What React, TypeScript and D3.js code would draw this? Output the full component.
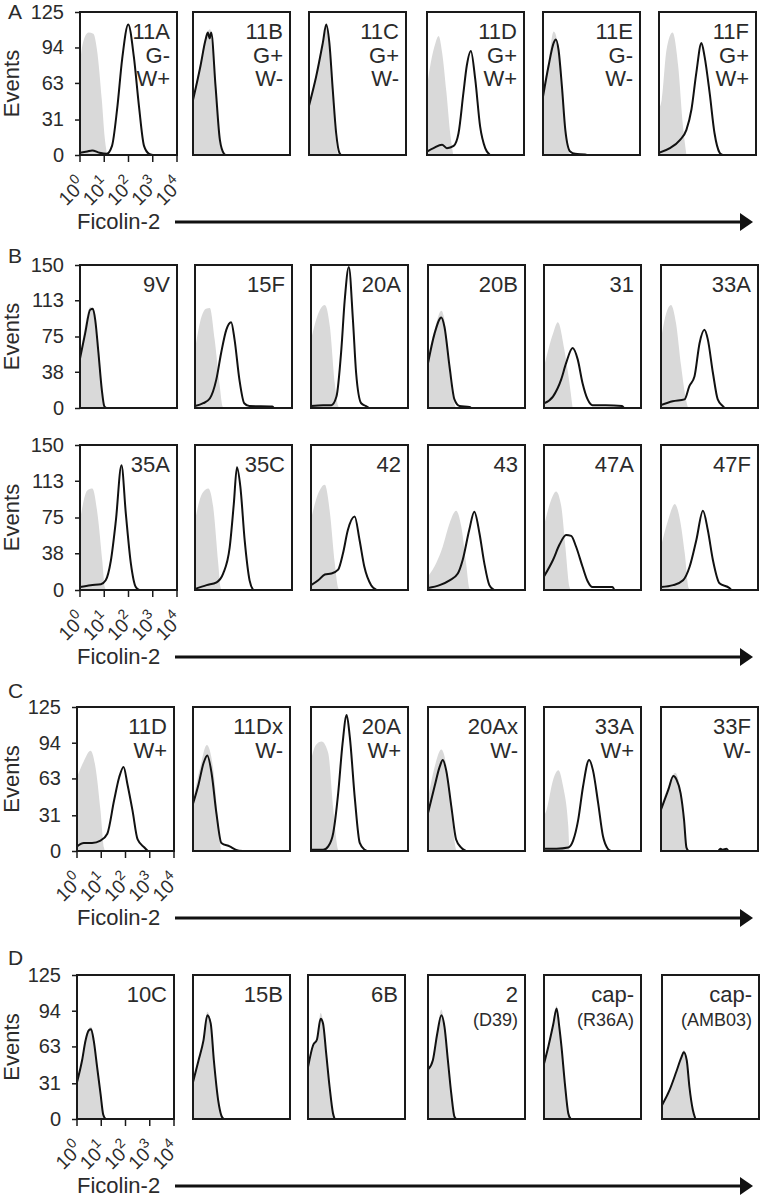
import { useEffect, useRef } from "react";
import * as d3 from "d3";

type Pt = [number, number];

// ---- data (x = log10 of Ficolin-2 intensity, y = events) ----
const decades = [0, 1, 2, 3, 4];
const ticks125 = [0, 31, 63, 94, 125];
const ticks150 = [0, 38, 75, 113, 150];

const labelsA = [["11A", "G-", "W+"], ["11B", "G+", "W-"], ["11C", "G+", "W-"], ["11D", "G+", "W+"], ["11E", "G-", "W-"], ["11F", "G+", "W+"]];
const labelsB1 = [["9V"], ["15F"], ["20A"], ["20B"], ["31"], ["33A"]];
const labelsB2 = [["35A"], ["35C"], ["42"], ["43"], ["47A"], ["47F"]];
const labelsC = [["11D", "W+"], ["11Dx", "W-"], ["20A", "W+"], ["20Ax", "W-"], ["33A", "W+"], ["33F", "W-"]];
const labelsD = [["10C"], ["15B"], ["6B"], ["2", "(D39)"], ["cap-", "(R36A)"], ["cap-", "(AMB03)"]];

const controlA: Pt[][] = [
  [[0, 80], [0.12, 98], [0.35, 107], [0.55, 106], [0.7, 92], [0.9, 48], [1.02, 15], [1.12, 0]],
  [[0, 50], [0.3, 80], [0.5, 102], [0.7, 110], [0.8, 100], [0.93, 65], [1.1, 18], [1.28, 0]],
  [[0, 45], [0.3, 72], [0.57, 100], [0.7, 112], [0.84, 98], [0.98, 55], [1.1, 15], [1.2, 0]],
  [[0, 60], [0.15, 80], [0.35, 98], [0.48, 104], [0.62, 90], [0.8, 55], [0.95, 20], [1.08, 0]],
  [[0, 58], [0.23, 82], [0.44, 108], [0.6, 98], [0.78, 62], [0.92, 22], [1.05, 3], [1.15, 0]],
  [[0, 40], [0.11, 48], [0.31, 92], [0.56, 107], [0.79, 78], [0.99, 25], [1.13, 0]],
];
const sampleA: Pt[][] = [
  [[0, 2], [0.3, 3], [0.5, 4], [0.8, 2], [1.1, 1], [1.32, 8], [1.53, 40], [1.74, 84], [1.99, 114], [2.22, 86], [2.43, 43], [2.64, 8], [2.85, 1], [3.0, 0]],
  [[0, 48], [0.31, 78], [0.51, 100], [0.61, 107], [0.69, 102], [0.75, 107], [0.93, 60], [1.11, 13], [1.28, 1], [1.35, 0]],
  [[0, 43], [0.3, 69], [0.57, 98], [0.71, 114], [0.84, 98], [0.98, 57], [1.12, 19], [1.25, 2], [1.32, 0]],
  [[0, 3], [0.27, 6], [0.62, 9], [0.82, 6], [1.1, 8], [1.3, 19], [1.5, 54], [1.64, 78], [1.81, 91], [1.99, 66], [2.19, 25], [2.4, 6], [2.6, 0]],
  [[0, 51], [0.23, 78], [0.44, 98], [0.53, 101], [0.64, 92], [0.78, 60], [0.92, 22], [1.12, 3], [1.33, 1], [1.74, 0.5], [1.8, 0]],
  [[0, 2], [0.45, 6], [0.86, 13], [1.13, 22], [1.34, 40], [1.54, 72], [1.75, 98], [1.88, 86], [2.09, 54], [2.29, 19], [2.5, 2], [2.62, 0]],
];

const controlB1: Pt[][] = [
  [[0, 54], [0.2, 85], [0.42, 106], [0.55, 103], [0.69, 72], [0.83, 37], [0.97, 2], [1.02, 0]],
  [[0, 61], [0.27, 96], [0.45, 104], [0.61, 105], [0.81, 72], [1.02, 23], [1.13, 2], [1.18, 0]],
  [[0, 71], [0.3, 99], [0.57, 108], [0.78, 85], [0.98, 26], [1.12, 2], [1.18, 0]],
  [[0, 54], [0.3, 85], [0.55, 102], [0.68, 92], [0.82, 54], [1.02, 12], [1.15, 0]],
  [[0, 43], [0.37, 78], [0.57, 90], [0.84, 61], [1.05, 26], [1.18, 0]],
  [[0, 72], [0.2, 98], [0.41, 108], [0.62, 89], [0.83, 44], [1.03, 9], [1.12, 0]],
];
const sampleB1: Pt[][] = [
  [[0, 52], [0.21, 78], [0.42, 103], [0.53, 104], [0.63, 92], [0.76, 58], [0.9, 19], [1.0, 2], [1.08, 0]],
  [[0, 2], [0.34, 5], [0.61, 10], [0.88, 30], [1.08, 58], [1.29, 82], [1.49, 90], [1.63, 72], [1.83, 30], [2.03, 5], [2.24, 2], [3.19, 1.5], [3.25, 0]],
  [[0, 2], [0.5, 3], [0.84, 3], [1.05, 12], [1.25, 61], [1.39, 113], [1.56, 148], [1.73, 92], [1.86, 37], [2.07, 5], [2.27, 2], [2.4, 0]],
  [[0, 47], [0.27, 78], [0.55, 95], [0.68, 85], [0.89, 43], [1.09, 9], [1.3, 2], [1.71, 1], [1.78, 0]],
  [[0, 5], [0.37, 12], [0.71, 30], [0.91, 47], [1.18, 63], [1.39, 51], [1.59, 26], [1.8, 9], [2.0, 3], [2.54, 3], [3.22, 2], [3.3, 0]],
  [[0, 3], [0.48, 7], [0.97, 9], [1.17, 23], [1.38, 33], [1.59, 68], [1.79, 82], [1.93, 72], [2.14, 37], [2.34, 9], [2.55, 2], [2.62, 0]],
];

const controlB2: Pt[][] = [
  [[0, 72], [0.3, 103], [0.51, 105], [0.72, 79], [0.92, 30], [1.02, 3], [1.08, 0]],
  [[0, 72], [0.3, 100], [0.55, 105], [0.75, 86], [0.96, 27], [1.05, 3], [1.1, 0]],
  [[0, 73], [0.3, 100], [0.57, 109], [0.78, 80], [0.98, 28], [1.12, 2], [1.18, 0]],
  [[0, 14], [0.34, 28], [0.61, 45], [0.89, 69], [1.16, 82], [1.37, 66], [1.57, 28], [1.7, 2], [1.75, 0]],
  [[0, 66], [0.25, 90], [0.5, 102], [0.71, 87], [0.88, 45], [1.05, 3], [1.1, 0]],
  [[0, 45], [0.3, 73], [0.57, 89], [0.78, 73], [0.98, 38], [1.14, 2], [1.2, 0]],
];
const sampleB2: Pt[][] = [
  [[0, 3], [0.44, 5], [0.86, 6], [1.06, 10], [1.27, 30], [1.48, 72], [1.71, 129], [1.89, 79], [2.1, 27], [2.3, 3], [2.44, 0]],
  [[0, 1], [0.48, 5], [0.89, 8], [1.16, 17], [1.43, 44], [1.6, 89], [1.73, 127], [1.87, 107], [2.05, 51], [2.25, 10], [2.4, 0]],
  [[0, 5], [0.3, 10], [0.57, 16], [0.84, 17], [1.12, 21], [1.32, 38], [1.52, 62], [1.8, 76], [2.0, 52], [2.2, 24], [2.48, 5], [2.7, 0]],
  [[0, 2], [0.48, 5], [0.89, 10], [1.23, 17], [1.43, 31], [1.7, 62], [1.91, 81], [2.12, 59], [2.32, 28], [2.53, 5], [2.72, 0]],
  [[0, 14], [0.37, 31], [0.64, 47], [0.91, 57], [1.12, 56], [1.32, 45], [1.59, 24], [1.8, 9], [2.0, 3], [2.82, 3], [2.9, 0]],
  [[0, 3], [0.5, 5], [0.91, 10], [1.18, 24], [1.46, 52], [1.73, 82], [1.93, 62], [2.14, 31], [2.41, 7], [2.82, 2], [2.9, 0]],
];

const controlC: Pt[][] = [
  [[0, 64], [0.28, 78], [0.56, 87], [0.76, 73], [0.97, 35], [1.11, 3], [1.16, 0]],
  [[0, 44], [0.3, 73], [0.57, 92], [0.84, 70], [1.04, 26], [1.17, 1], [1.22, 0]],
  [[0, 79], [0.2, 92], [0.44, 95], [0.71, 85], [0.92, 36], [1.12, 1], [1.16, 0]],
  [[0, 45], [0.3, 75], [0.55, 88], [0.82, 65], [1.02, 22], [1.16, 1], [1.2, 0]],
  [[0, 30], [0.11, 36], [0.38, 62], [0.59, 70], [0.79, 56], [1.0, 22], [1.06, 1], [1.1, 0]],
  [[0, 39], [0.3, 56], [0.58, 68], [0.78, 56], [0.92, 27], [1.08, 1], [1.12, 0]],
];
const sampleC: Pt[][] = [
  [[0, 4], [0.28, 7], [0.62, 7], [0.97, 9], [1.25, 15], [1.53, 44], [1.74, 64], [1.92, 73], [2.08, 58], [2.29, 35], [2.5, 10], [2.78, 3], [2.92, 0]],
  [[0, 41], [0.23, 58], [0.43, 76], [0.59, 83], [0.77, 67], [0.97, 32], [1.17, 7], [1.51, 4], [1.78, 1], [2.05, 0]],
  [[0, 1], [0.5, 1], [0.71, 4], [0.92, 16], [1.12, 50], [1.3, 93], [1.47, 118], [1.6, 99], [1.81, 45], [2.01, 7], [2.22, 1], [2.3, 0]],
  [[0, 33], [0.27, 56], [0.48, 73], [0.61, 79], [0.75, 70], [0.96, 39], [1.16, 10], [1.37, 3], [1.56, 0]],
  [[0, 2], [0.52, 2], [1.0, 3], [1.2, 9], [1.41, 27], [1.61, 56], [1.86, 79], [2.02, 70], [2.23, 42], [2.43, 13], [2.63, 2], [2.75, 0]],
  [[0, 36], [0.3, 53], [0.51, 65], [0.64, 62], [0.81, 50], [0.95, 27], [1.05, 3], [1.15, 0], [2.35, 0], [2.45, 2], [2.55, 1], [2.7, 2], [2.78, 0]],
];

const controlD: Pt[][] = [
  [[0, 33], [0.21, 53], [0.35, 70], [0.5, 79], [0.58, 80], [0.69, 70], [0.83, 46], [0.97, 22], [1.08, 4], [1.14, 0]],
  [[0, 33], [0.23, 52], [0.43, 70], [0.59, 93], [0.73, 84], [0.86, 52], [1.04, 16], [1.17, 2], [1.22, 0]],
  [[0, 46], [0.21, 65], [0.37, 70], [0.52, 92], [0.62, 85], [0.75, 58], [0.89, 28], [1.03, 5], [1.1, 0]],
  [[0, 44], [0.2, 52], [0.38, 76], [0.55, 95], [0.68, 82], [0.82, 52], [0.96, 22], [1.09, 2], [1.14, 0]],
  [[0, 49], [0.18, 64], [0.38, 84], [0.52, 98], [0.63, 82], [0.72, 64], [0.86, 32], [1.0, 5], [1.08, 0]],
  [[0, 13], [0.31, 26], [0.59, 42], [0.79, 54], [0.9, 60], [1.02, 52], [1.13, 28], [1.27, 8], [1.35, 0]],
];
const sampleD: Pt[][] = [
  [[0, 32], [0.21, 51], [0.35, 68], [0.49, 77], [0.58, 78], [0.69, 68], [0.83, 45], [0.97, 22], [1.08, 4], [1.18, 0]],
  [[0, 32], [0.23, 51], [0.43, 68], [0.59, 90], [0.73, 83], [0.86, 51], [1.04, 16], [1.17, 3], [1.27, 0]],
  [[0, 45], [0.21, 64], [0.37, 69], [0.52, 87], [0.62, 83], [0.75, 57], [0.89, 28], [1.03, 5], [1.1, 0]],
  [[0, 43], [0.2, 51], [0.38, 74], [0.55, 90], [0.68, 80], [0.82, 51], [0.96, 22], [1.09, 2], [1.16, 0]],
  [[0, 48], [0.18, 63], [0.38, 82], [0.52, 96], [0.63, 80], [0.72, 63], [0.86, 31], [1.0, 5], [1.1, 0]],
  [[0, 12], [0.31, 25], [0.59, 41], [0.79, 53], [0.9, 58], [1.02, 51], [1.13, 28], [1.27, 8], [1.38, 0]],
];

// ---- layout ----
const W = 764, H = 1200, PW = 97;
const FONT = "'Liberation Sans', Arial, Helvetica, sans-serif";
const INK = "#2b2b2b";

const rows = [
  { letter: "A", letterY: 19, top: 12, bottom: 155, xs: [80, 193, 309, 427, 543, 659], yMax: 125, ticks: ticks125, labels: labelsA, control: controlA, sample: sampleA, xAxis: true, smallSub: false },
  { letter: "B", letterY: 263, top: 265, bottom: 408, xs: [80, 195, 311, 428, 544, 661], yMax: 150, ticks: ticks150, labels: labelsB1, control: controlB1, sample: sampleB1, xAxis: false, smallSub: false },
  { letter: "", letterY: 0, top: 445, bottom: 590, xs: [80, 195, 311, 428, 544, 661], yMax: 150, ticks: ticks150, labels: labelsB2, control: controlB2, sample: sampleB2, xAxis: true, smallSub: false },
  { letter: "C", letterY: 698, top: 707, bottom: 851, xs: [77, 193, 311, 428, 544, 661], yMax: 125, ticks: ticks125, labels: labelsC, control: controlC, sample: sampleC, xAxis: true, smallSub: false },
  { letter: "D", letterY: 965, top: 975, bottom: 1119, xs: [77, 193, 308, 428, 544, 662], yMax: 125, ticks: ticks125, labels: labelsD, control: controlD, sample: sampleD, xAxis: true, smallSub: true },
];

export default function App() {
  const svgRef = useRef<SVGSVGElement>(null);

  useEffect(() => {
    const svg = d3.select(svgRef.current);
    svg.selectAll("*").remove();
    svg.append("rect").attr("width", W).attr("height", H).attr("fill", "#fff");
    const defs = svg.append("defs");

    rows.forEach((row, r) => {
      const h = row.bottom - row.top;
      const x = d3.scaleLinear().domain([0, 4]).range([0, PW]);
      const y = d3.scaleLinear().domain([0, row.yMax]).range([h, 0]);
      const area = d3.area<Pt>().x(d => x(d[0])).y0(y(0)).y1(d => y(d[1])).curve(d3.curveMonotoneX);
      const line = d3.line<Pt>().x(d => x(d[0])).y(d => y(d[1])).curve(d3.curveMonotoneX);

      const clipId = `clip-${r}`;
      defs.append("clipPath").attr("id", clipId)
        .append("rect").attr("width", PW).attr("height", h);

      // section letter and y label
      if (row.letter) {
        svg.append("text").attr("x", 8).attr("y", row.letterY)
          .attr("font-family", FONT).attr("font-size", 21).attr("fill", INK)
          .text(row.letter);
      }
      svg.append("text")
        .attr("transform", `translate(19, ${(row.top + row.bottom) / 2}) rotate(-90)`)
        .attr("text-anchor", "middle")
        .attr("font-family", FONT).attr("font-size", 22).attr("fill", INK)
        .text("Events");

      row.xs.forEach((px, i) => {
        const g = svg.append("g").attr("transform", `translate(${px}, ${row.top})`);
        const inner = g.append("g").attr("clip-path", `url(#${clipId})`);
        inner.append("path").attr("d", area(row.control[i]) as string).attr("fill", "#d9d9d9");
        inner.append("path").attr("d", line(row.sample[i]) as string)
          .attr("fill", "none").attr("stroke", "#111").attr("stroke-width", 2)
          .attr("stroke-linejoin", "round");
        g.append("rect").attr("width", PW).attr("height", h)
          .attr("fill", "none").attr("stroke", "#1a1a1a").attr("stroke-width", 2);

        // panel label
        row.labels[i].forEach((t, k) => {
          const small = row.smallSub && k > 0;
          g.append("text")
            .attr("x", PW - 7).attr("y", 27 + k * 23.5)
            .attr("text-anchor", "end")
            .attr("font-family", FONT).attr("font-size", small ? 18 : 22).attr("fill", INK)
            .text(t);
        });

        if (i === 0) {
          const ya = g.append("g").call(
            d3.axisLeft(y).tickValues(row.ticks).tickSize(5).tickPadding(11).tickFormat(d3.format("d"))
          );
          ya.select(".domain").remove();
          ya.selectAll("line").attr("stroke", "#1a1a1a").attr("stroke-width", 1.5);
          ya.selectAll("text").attr("font-family", FONT).attr("font-size", 20).attr("fill", INK);

          if (row.xAxis) {
            const xa = g.append("g").attr("transform", `translate(0, ${h})`);
            decades.forEach(dv => {
              xa.append("line").attr("x1", x(dv)).attr("x2", x(dv)).attr("y1", 0).attr("y2", 7)
                .attr("stroke", "#1a1a1a").attr("stroke-width", 1.5);
              const t = xa.append("text")
                .attr("transform", `translate(${x(dv) + 7}, 31) rotate(-45)`)
                .attr("text-anchor", "end")
                .attr("font-family", FONT).attr("font-size", 19).attr("fill", INK);
              t.append("tspan").text("10");
              t.append("tspan").attr("dy", -9).attr("font-size", 14).text(String(dv));
            });
          }
        }
      });

      if (row.xAxis) {
        const by = row.bottom + 74;
        svg.append("text").attr("x", 77).attr("y", by)
          .attr("font-family", FONT).attr("font-size", 22).attr("fill", INK)
          .text("Ficolin-2");
        const ay = by - 7;
        svg.append("line").attr("x1", 175).attr("x2", 742).attr("y1", ay).attr("y2", ay)
          .attr("stroke", "#111").attr("stroke-width", 3);
        svg.append("path")
          .attr("d", `M740,${ay - 9}L753,${ay}L740,${ay + 9}Z`)
          .attr("fill", "#111");
      }
    });
  }, []);

  return (
    <svg
      ref={svgRef}
      width={W}
      height={H}
      viewBox={`0 0 ${W} ${H}`}
      style={{ position: "absolute", left: 0, top: 0 }}
    />
  );
}
